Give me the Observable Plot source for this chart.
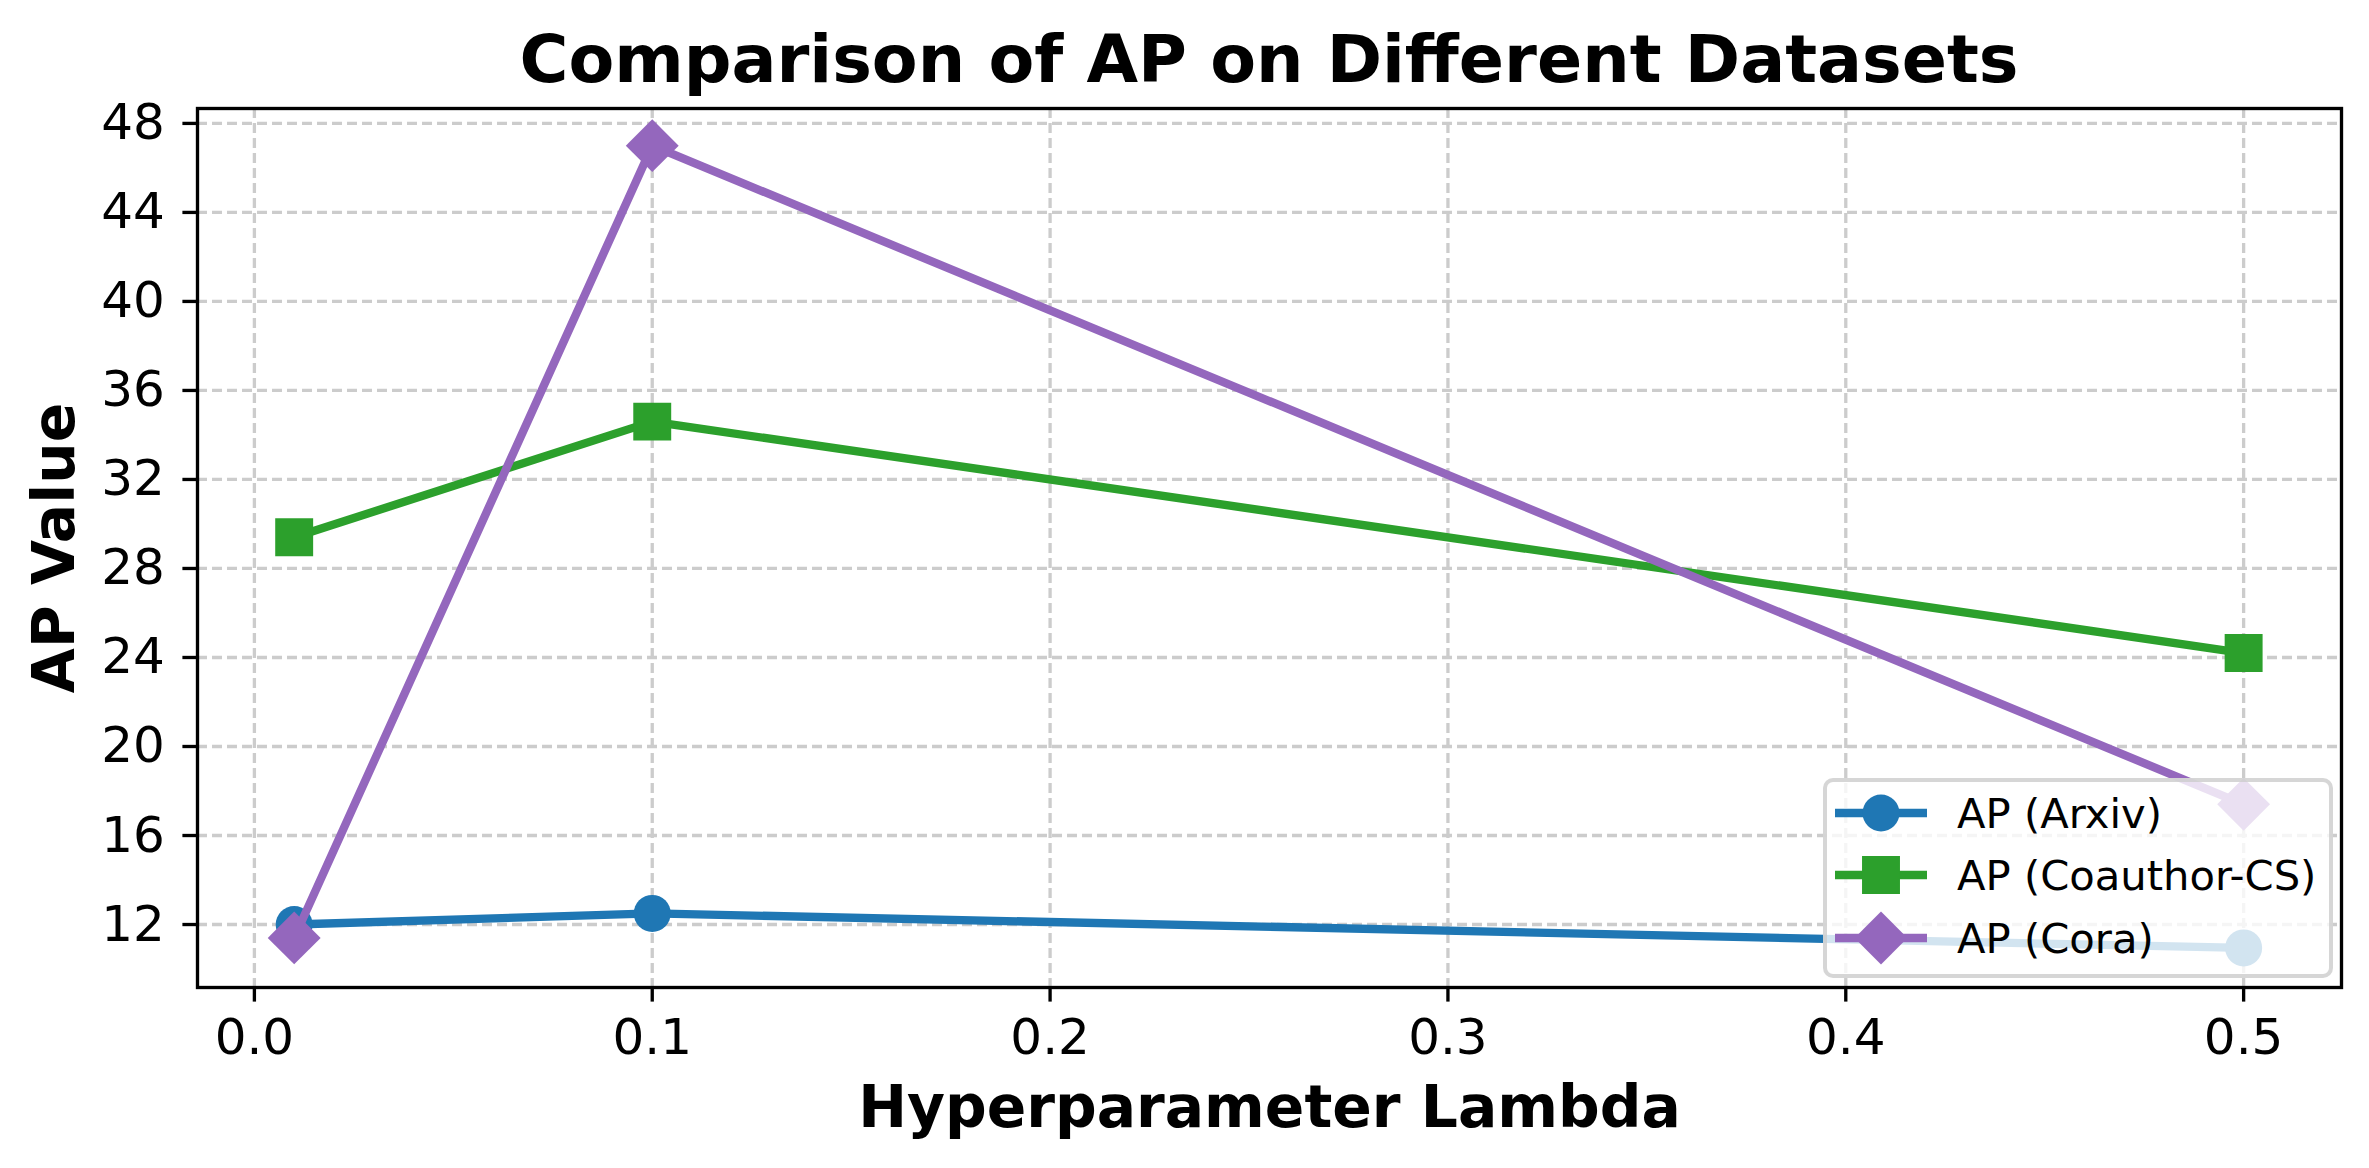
<!DOCTYPE html>
<html>
<head>
<meta charset="utf-8">
<script src="https://cdn.jsdelivr.net/npm/d3@7"></script>
<script src="https://cdn.jsdelivr.net/npm/@observablehq/plot@0.6"></script>
<style>
  html, body { margin: 0; padding: 0; background: #fff; }
  #wrap { position: relative; width: 2369px; height: 1168px; background: #fff; overflow: hidden; font-family: "DejaVu Sans", sans-serif; }
  #title { position: absolute; left: 197px; width: 2144px; top: 26px; text-align: center; font-weight: bold; font-size: 66.7px; line-height: 1; color: #000; white-space: nowrap; }
  #header { height: 100px; }
  #chart svg { display: block; }
  #legend { position: absolute; left: 1823px; top: 778px; width: 510px; height: 200px; box-sizing: border-box;
            background: rgba(255,255,255,0.8); border: 4px solid rgba(204,204,204,0.8); border-radius: 10px; }
  #legend svg { position: absolute; left: -4px; top: -4px; overflow: visible; }
</style>
</head>
<body>
<div id="wrap">
  <div id="header"><div id="title">Comparison of AP on Different Datasets</div></div>
  <div id="chart"></div>
  <div id="legend"></div>
</div>
<script>
// ---- data ----
const lambdas = [0.01, 0.1, 0.5];
const apArxiv = [12.0, 12.5, 10.95];
const apCoauthor = [29.4, 34.6, 24.2];
const apCora = [11.4, 47.0, 17.4];
const seriesNames = ["AP (Arxiv)", "AP (Coauthor-CS)", "AP (Cora)"];
const seriesColors = ["#1f77b4", "#2ca02c", "#9467bd"];
const xTicks = [0.0, 0.1, 0.2, 0.3, 0.4, 0.5];
const yTicks = [12, 16, 20, 24, 28, 32, 36, 40, 44, 48];
const xLabel = "Hyperparameter Lambda";
const yLabel = "AP Value";

// ---- build ----
const diamond = {
  draw(context, size) {
    const h = Math.sqrt(size / 2);
    context.moveTo(0, -h);
    context.lineTo(h, 0);
    context.lineTo(0, h);
    context.lineTo(-h, 0);
    context.closePath();
  }
};
const seriesValues = [apArxiv, apCoauthor, apCora];
const seriesSymbols = ["circle", "square", diamond];
const seriesR = [18.5, 21.4, 21.1];

const series = seriesNames.map((name, i) => ({
  name, color: seriesColors[i], symbol: seriesSymbols[i], r: seriesR[i],
  rows: lambdas.map((x, j) => ({x, y: seriesValues[i][j]}))
}));

const gridStyle = {stroke: "#cccccc", strokeOpacity: 1, strokeWidth: 3.3, strokeDasharray: "10,5"};

const marks = [
  Plot.gridX(xTicks, gridStyle),
  Plot.gridY(yTicks, gridStyle)
];
for (const s of series) {
  marks.push(Plot.line(s.rows, {x: "x", y: "y", stroke: s.color, strokeWidth: 8.33}));
  marks.push(Plot.dot(s.rows, {x: "x", y: "y", fill: s.color, stroke: "none", symbol: s.symbol, r: s.r}));
}
marks.push(
  Plot.frame({stroke: "black", strokeWidth: 3.33}),
  Plot.axisX(xTicks, {tickFormat: d3.format(".1f"), tickSize: 14.6, tickPadding: 16, strokeWidth: 3.33, label: null, fontSize: 50}),
  Plot.axisY(yTicks, {tickSize: 14.6, tickPadding: 18, strokeWidth: 3.33, label: null, fontSize: 50}),
  Plot.text([xLabel], {frameAnchor: "bottom", dy: 139, lineAnchor: "bottom", textAnchor: "middle", fontWeight: "bold", fontSize: 58.3, fill: "black"}),
  Plot.text([yLabel], {frameAnchor: "left", dx: -124, rotate: -90, lineAnchor: "bottom", textAnchor: "middle", fontWeight: "bold", fontSize: 58.3, fill: "black"})
);

const chart = Plot.plot({
  width: 2369,
  height: 1068,
  marginTop: 8,
  marginBottom: 181,
  marginLeft: 197,
  marginRight: 28,
  style: {fontFamily: "DejaVu Sans", fontSize: "50px", color: "black", background: "white", overflow: "visible"},
  x: {domain: [-0.0143, 0.5246]},
  y: {domain: [9.17, 48.67]},
  marks
});
document.getElementById("chart").appendChild(chart);

// ---- legend (HTML overlay, semi-transparent like the original) ----
const ns = "http://www.w3.org/2000/svg";
const lsvg = document.createElementNS(ns, "svg");
lsvg.setAttribute("width", 510);
lsvg.setAttribute("height", 200);
const rowY = [35, 97, 160];
series.forEach((s, i) => {
  const cy = rowY[i];
  const line = document.createElementNS(ns, "line");
  line.setAttribute("x1", 12); line.setAttribute("x2", 104);
  line.setAttribute("y1", cy); line.setAttribute("y2", cy);
  line.setAttribute("stroke", s.color); line.setAttribute("stroke-width", 8.33);
  lsvg.appendChild(line);
  const path = document.createElementNS(ns, "path");
  const sym = typeof s.symbol === "string" ? (s.symbol === "circle" ? d3.symbolCircle : d3.symbolSquare) : s.symbol;
  path.setAttribute("d", d3.symbol(sym, Math.PI * s.r * s.r)());
  path.setAttribute("transform", `translate(58,${cy})`);
  path.setAttribute("fill", s.color);
  lsvg.appendChild(path);
  const t = document.createElementNS(ns, "text");
  t.setAttribute("x", 134); t.setAttribute("y", cy + 15);
  t.setAttribute("font-family", "DejaVu Sans"); t.setAttribute("font-size", 41.7);
  t.setAttribute("fill", "black");
  t.textContent = s.name;
  lsvg.appendChild(t);
});
document.getElementById("legend").appendChild(lsvg);
</script>
</body>
</html>
